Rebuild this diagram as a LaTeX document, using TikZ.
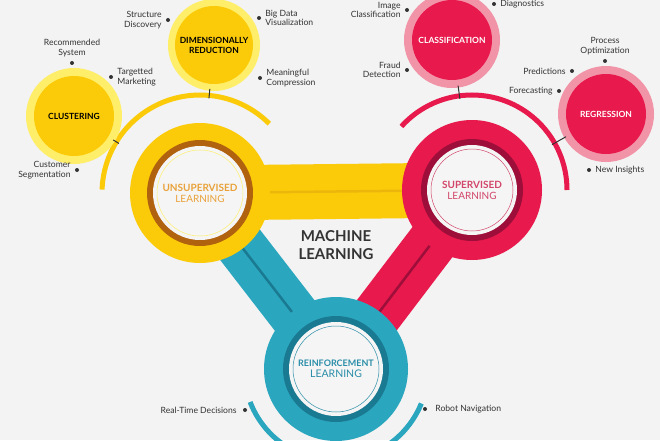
\documentclass[tikz,border=0pt]{standalone}
\usepackage{fontspec}
\setmainfont{Lato}
\usetikzlibrary{positioning,calc}
\definecolor{bgc}{HTML}{F3F3F3}
\definecolor{yel}{HTML}{FBCB0A}
\definecolor{yellt}{HTML}{FFEE6A}
\definecolor{brn}{HTML}{B0620E}
\definecolor{org}{HTML}{E9A23B}
\definecolor{rd}{HTML}{E8194C}
\definecolor{rdlt}{HTML}{F294A8}
\definecolor{rddk}{HTML}{9E0E3A}
\definecolor{rdtx}{HTML}{D2466A}
\definecolor{tl}{HTML}{2BA6BF}
\definecolor{tldk}{HTML}{1A7A91}
\definecolor{tltx}{HTML}{2A8DA8}
\definecolor{txt}{HTML}{333333}

\begin{document}
\begin{tikzpicture}[x=1pt, y=1pt,
    lbl/.style={font=\fontsize{8.6}{9.6}\selectfont, text=txt, inner sep=0pt, align=center},
    dot/.style={circle, fill=txt, inner sep=0pt, minimum size=4pt},
    sub/.style={circle, inner sep=0pt, font=\bfseries\fontsize{8.5}{10}\selectfont, align=center, minimum size=96pt},
    big/.style={circle, inner sep=0pt, minimum size=140pt},
    tick/.style={draw=txt, line width=1pt}]
    \useasboundingbox (0,0) rectangle (660,440);
    \fill[bgc] (0,0) rectangle (660,440);
    \clip (0,0) rectangle (660,440);

    % Centres
    \coordinate (uc) at (200,247);
    \coordinate (sc) at (472,250);
    \coordinate (rc) at (336,71);

    % Bars
    \draw[line width=55pt, yel] (uc) -- (sc);
    \draw[line width=2.5pt, yel!80!brn] (uc) -- (sc);
    \draw[line width=50pt, tl] (uc) -- (rc);
    \draw[line width=2.5pt, tldk] (uc) -- (rc);
    \draw[line width=50pt, rd] (sc) -- (rc);
    \draw[line width=2.5pt, rddk] (sc) -- (rc);

    % Arcs
    \draw[yel, line width=5pt] ($(uc)+(45:98)$) arc (45:178:98);
    \draw[rd, line width=5pt] ($(sc)+(0:95)$) arc (0:138:95);
    \draw[tl, line width=5pt] ($(rc)+(201:92)$) arc (201:338:92);

    % Main circles
    \node[big, fill=yel] (unsup) at (uc) {};
    \fill[brn] (uc) circle (53);
    \fill[white!92!gray] (uc) circle (47);
    \draw[yellt, line width=0.5pt] (uc) circle (43);
    \node[font=\fontsize{10}{11}\selectfont, text=org, align=center] at (uc) {\textbf{UNSUPERVISED}\\LEARNING};

    \node[big, fill=rd] (sup) at (sc) {};
    \fill[rddk] (sc) circle (51);
    \fill[white!92!gray] (sc) circle (45);
    \draw[rdtx, line width=0.5pt] (sc) circle (41);
    \node[font=\fontsize{10}{11}\selectfont, text=rdtx, align=center] at (sc) {\textbf{SUPERVISED}\\LEARNING};

    \node[big, minimum size=144pt, fill=tl] (reinf) at (rc) {};
    \fill[tldk] (rc) circle (53);
    \fill[white!92!gray] (rc) circle (47);
    \draw[tltx, line width=0.5pt] (rc) circle (43);
    \node[font=\fontsize{9}{11}\selectfont, text=tltx, align=center] at (rc) {\textbf{REINFORCEMENT}\\{\fontsize{10.5}{11}\selectfont LEARNING}};

    \node[font=\bfseries\fontsize{15}{18}\selectfont, text=txt, align=center] (ml) at (336,195) {MACHINE\\LEARNING};

    % Sub circles
    \node[sub, fill=yellt] (clu) at (74,324) {};
    \node[sub, minimum size=80pt, fill=yel, text=black] (clui) at (clu) {CLUSTERING};
    \node[sub, minimum size=92pt, fill=yellt] (dim) at (214,395) {};
    \node[sub, minimum size=78pt, fill=yel, text=black] (dimi) at (dim) {DIMENSIONALLY\\REDUCTION};
    \node[sub, fill=rdlt] (cla) at (452,400) {};
    \node[sub, minimum size=80pt, fill=rd, text=white] (clai) at (cla) {CLASSIFICATION};
    \node[sub, fill=rdlt] (reg) at (606,326) {};
    \node[sub, minimum size=80pt, fill=rd, text=white] (regi) at (reg) {REGRESSION};

    % Ticks
    \draw[tick] ($(uc)!95pt!(clu)$) -- ($(clu)!46pt!(uc)$);
    \draw[tick] ($(uc)!95pt!(dim)$) -- ($(dim)!44pt!(uc)$);
    \draw[tick] ($(sc)!92pt!(cla)$) -- ($(cla)!46pt!(sc)$);
    \draw[tick] ($(sc)!92pt!(reg)$) -- ($(reg)!46pt!(sc)$);

    % Labels
    \node[dot] (d1) at (72,377) {};
    \node[lbl, above=4pt of d1] {Recommended\\System};
    \node[dot] (d2) at (111,363) {};
    \node[lbl, right=4pt of d2, align=left] {Targetted\\Marketing};
    \node[dot] (d3) at (77,270) {};
    \node[lbl, left=4pt of d3, align=right] {Customer\\Segmentation};
    \node[dot] (d4) at (168,420) {};
    \node[lbl, left=4pt of d4, align=right] {Structure\\Discovery};
    \node[dot] (d5) at (259,422) {};
    \node[lbl, right=4pt of d5, align=left] {Big Data\\Visualization};
    \node[dot] (d6) at (260,362) {};
    \node[lbl, right=4pt of d6, align=left] {Meaningful\\Compression};
    \node[dot] (d7) at (407,430) {};
    \node[lbl, left=4pt of d7, align=right] {Image\\Classification};
    \node[dot] (d8) at (494,436) {};
    \node[lbl, right=4pt of d8, align=left] {Diagnostics};
    \node[dot] (d9) at (407,370) {};
    \node[lbl, left=4pt of d9, align=right] {Fraud\\Detection};
    \node[dot] (d10) at (605,379) {};
    \node[lbl, above=4pt of d10] {Process\\Optimization};
    \node[dot] (d11) at (572,369) {};
    \node[lbl, left=4pt of d11] {Predictions};
    \node[dot] (d12) at (559,349) {};
    \node[lbl, left=4pt of d12] {Forecasting};
    \node[dot] (d13) at (589,270) {};
    \node[lbl, right=4pt of d13] {New Insights};
    \node[dot] (d14) at (245,30) {};
    \node[lbl, left=6pt of d14] {Real-Time Decisions};
    \node[dot] (d15) at (425,31) {};
    \node[lbl, right=8pt of d15] {Robot Navigation};
\end{tikzpicture}
\end{document}
